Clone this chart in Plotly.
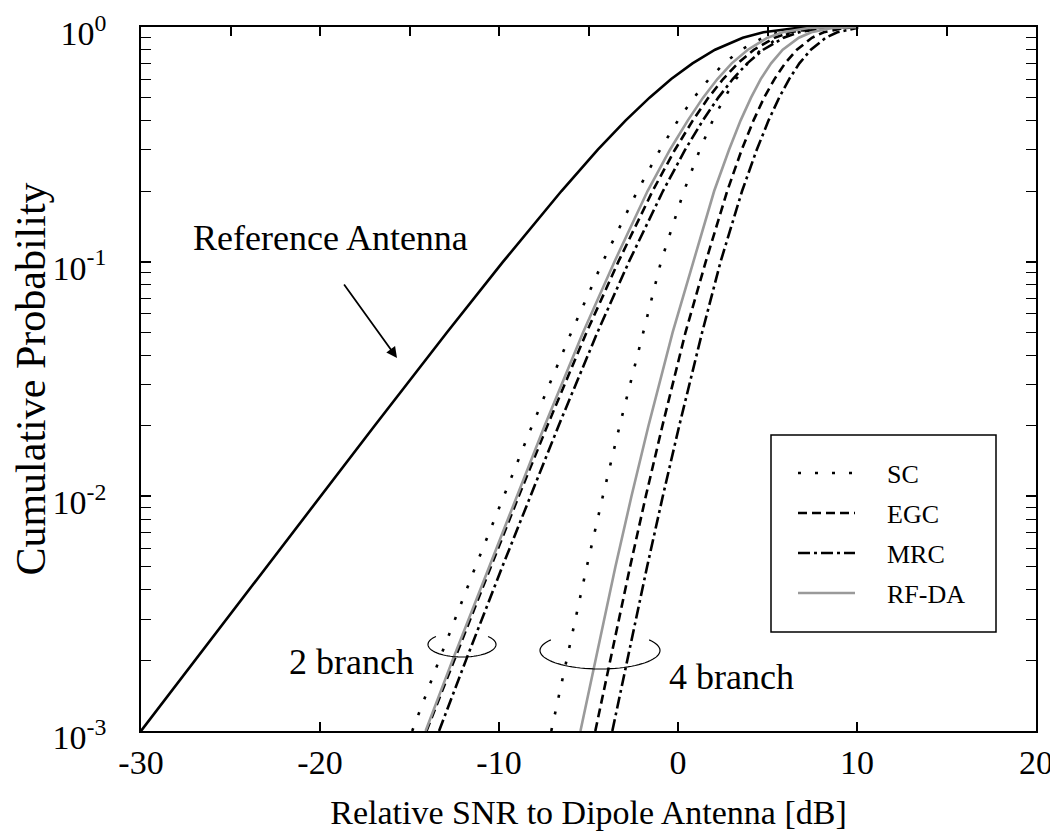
import numpy as np
import plotly.graph_objects as go

# ---------------- data ----------------
cum_prob = [0.001, 0.002, 0.005, 0.01, 0.02, 0.05, 0.1, 0.2, 0.3, 0.4, 0.5,
            0.6, 0.7, 0.8, 0.9, 0.95, 0.99, 0.999, 1.0]

snr_reference = [-30.0, -26.98, -23.0, -19.98, -16.95, -12.9, -9.77, -6.51, -4.48, -2.92,
                 -1.59, -0.38, 0.81, 2.07, 3.62, 4.77, 6.63, 8.39, 10.0]

snr_sc_2 = [-14.85, -13.35, -11.32, -9.75, -8.15, -5.96, -4.2, -2.27, -1.0, 0.0,
            0.89, 1.73, 2.58, 3.52, 4.73, 5.65, 7.24, 8.81, 10.0]
snr_egc_2 = [-14.05, -12.52, -10.46, -8.9, -7.3, -5.11, -3.33, -1.42, -0.17, 0.83,
             1.7, 2.52, 3.34, 4.24, 5.39, 6.26, 7.72, 9.15, 10.0]
snr_mrc_2 = [-13.35, -11.85, -9.82, -8.26, -6.67, -4.5, -2.74, -0.84, 0.4, 1.39,
             2.25, 3.06, 3.87, 4.76, 5.9, 6.76, 8.22, 9.65, 10.0]
snr_rfda_2 = [-14.1, -12.6, -10.55, -9.0, -7.45, -5.3, -3.55, -1.7, -0.45, 0.55,
              1.4, 2.2, 3.0, 3.9, 5.0, 5.85, 7.3, 8.7, 10.0]

snr_sc_4 = [-7.08, -6.24, -5.1, -4.2, -3.26, -1.94, -0.95, 0.33, 1.22, 1.94,
            2.6, 3.24, 3.89, 4.63, 5.62, 6.4, 7.77, 9.19, 10.0]
snr_egc_4 = [-4.62, -3.8, -2.68, -1.8, -0.87, 0.42, 1.55, 2.75, 3.56, 4.22,
             4.81, 5.39, 5.98, 6.64, 7.48, 8.14, 9.26, 10.0, 10.0]
snr_mrc_4 = [-3.67, -2.85, -1.73, -0.85, 0.07, 1.35, 2.38, 3.58, 4.4, 5.06,
             5.65, 6.21, 6.78, 7.42, 8.25, 8.9, 10.0, 10.0, 10.0]
snr_rfda_4 = [-5.45, -4.6, -3.5, -2.6, -1.65, -0.3, 0.85, 2.02, 2.85, 3.5,
              4.08, 4.62, 5.2, 5.85, 6.75, 7.45, 8.6, 9.6, 10.0]

legend_names = ["SC", "EGC", "MRC", "RF-DA"]
x_tick_vals = [-30, -20, -10, 0, 10, 20]
x_tick_text = ["-30", "-20", "-10", "0", "10", "20"]
x_top_tick_vals = [-30, -25, -20, -15, -10, -5, 0, 5, 10, 15, 20]
y_tick_vals = [1e-3, 1e-2, 1e-1, 1.0]
y_tick_text = ["10<sup>-3</sup>", "10<sup>-2</sup>", "10<sup>-1</sup>", "10<sup>0</sup>"]
y_minor_vals = [m * 10.0 ** e for e in (-3, -2, -1) for m in range(2, 10)]

# ---------------- layout geometry (screen pixels) ----------------
FONT = "Liberation Serif, Times New Roman, serif"
OFF = 8                      # page body margin of the html page
PL, PT, PR, PB = 141, 27, 1036, 731   # plot area on screen
W, H = 1058 - OFF, 832 - OFF
ML, MT = PL - OFF, PT - OFF
MR, MB = W - (PR - OFF), H - (PB - OFF)

styles = {
    "SC": dict(color="black", width=2.6, dash="3px,14px"),
    "EGC": dict(color="black", width=2.6, dash="9px,5px"),
    "MRC": dict(color="black", width=2.6, dash="12px,4px,3px,4px"),
    "RF-DA": dict(color="#9a9a9a", width=2.6, dash="solid"),
}

fig = go.Figure()
fig.add_trace(go.Scatter(x=snr_reference, y=cum_prob, mode="lines",
                         line=dict(color="black", width=2.6),
                         name="Reference Antenna", showlegend=False))

groups = {
    "SC": (snr_sc_2, snr_sc_4),
    "EGC": (snr_egc_2, snr_egc_4),
    "MRC": (snr_mrc_2, snr_mrc_4),
    "RF-DA": (snr_rfda_2, snr_rfda_4),
}
for name in legend_names:
    two, four = groups[name]
    fig.add_trace(go.Scatter(x=two, y=cum_prob, mode="lines", line=styles[name],
                             name=f"{name} (2 branch)", showlegend=False))
    fig.add_trace(go.Scatter(x=four, y=cum_prob, mode="lines", line=styles[name],
                             name=f"{name} (4 branch)", showlegend=False))

# invisible trace to activate the top axis (ticks every 5 dB)
fig.add_trace(go.Scatter(x=[-30, 20], y=[1e-3, 1e-3], xaxis="x2", mode="lines",
                         line=dict(width=0), showlegend=False, hoverinfo="skip"))


def px2paper(px, py):
    return (px - PL) / (PR - PL), (PB - py) / (PB - PT)


def arc_path(cx, cy, rx, ry, t0, t1, n=60):
    ts = np.radians(np.linspace(t0, t1, n))
    pts = [px2paper(cx + rx * np.cos(t), cy + ry * np.sin(t)) for t in ts]
    return "M" + " L".join(f"{x:.5f},{y:.5f}" for x, y in pts)


shapes = [
    dict(type="path", xref="paper", yref="paper",
         path=arc_path(462, 644.5, 34, 12.5, -40, 220), line=dict(color="black", width=1.2)),
    dict(type="path", xref="paper", yref="paper",
         path=arc_path(600, 650.5, 60, 18.5, -35, 215), line=dict(color="black", width=1.2)),
]

annotations = []
for text, (px, py) in [("Reference Antenna", (330, 238)), ("2 branch", (351, 662)),
                       ("4 branch", (731, 677))]:
    ax_, ay_ = px2paper(px, py)
    annotations.append(dict(text=text, x=ax_, y=ay_, xref="paper", yref="paper",
                            xanchor="center", yanchor="middle", showarrow=False,
                            font=dict(family=FONT, size=36, color="black")))
tipx, tipy = px2paper(397, 358)
annotations.append(dict(text="", x=tipx, y=tipy, xref="paper", yref="paper",
                        showarrow=True, ax=-54, ay=-75, arrowhead=2, arrowsize=1.2,
                        arrowwidth=1.8, arrowcolor="black", standoff=0))

# ---- legend box (drawn by hand to match the original's spacing) ----
bx0, by0 = px2paper(771, 435)
bx1, by1 = px2paper(996, 632)
shapes.append(dict(type="rect", xref="paper", yref="paper", x0=bx0, y0=by1, x1=bx1, y1=by0,
                   line=dict(color="black", width=1.5), fillcolor="white", layer="above"))
for i, name in enumerate(legend_names):
    ypx = 473 + i * 40
    x0, yy = px2paper(798, ypx)
    x1, _ = px2paper(855, ypx)
    shapes.append(dict(type="line", xref="paper", yref="paper", x0=x0, x1=x1, y0=yy, y1=yy,
                       line=styles[name], layer="above"))
    tx, ty = px2paper(885, ypx + 1)
    annotations.append(dict(text=name, x=tx, y=ty, xref="paper", yref="paper",
                            xanchor="left", yanchor="middle", showarrow=False,
                            font=dict(family=FONT, size=26, color="black")))

fig.update_layout(
    width=W, height=H,
    margin=dict(l=ML, r=MR, t=MT, b=MB, autoexpand=False),
    paper_bgcolor="white", plot_bgcolor="white",
    font=dict(family=FONT, size=34, color="black"),
    shapes=shapes, annotations=annotations,
    showlegend=False,
    xaxis=dict(range=[-30, 20], tickvals=x_tick_vals, ticktext=x_tick_text,
               ticks="inside", ticklen=9, tickwidth=1.5, tickcolor="black",
               showline=True, linecolor="black", linewidth=1.5, mirror=True,
               showgrid=False, zeroline=False, automargin=False,
               ticklabeloverflow="allow",
               title=dict(text="Relative SNR to Dipole Antenna [dB]", standoff=21,
                          font=dict(family=FONT, size=34)),
               tickfont=dict(family=FONT, size=34)),
    xaxis2=dict(range=[-30, 20], overlaying="x", side="top", anchor="y",
                tickvals=x_top_tick_vals, ticks="inside", ticklen=9, tickwidth=1.5,
                tickcolor="black", showticklabels=False, showgrid=False, zeroline=False,
                showline=False, automargin=False),
    yaxis=dict(type="log", range=[-3, 0], tickvals=y_tick_vals, ticktext=y_tick_text,
               ticks="inside", ticklen=10, tickwidth=1.5, tickcolor="black",
               ticklabelstandoff=26, ticklabeloverflow="allow", ticklabelshift=6,
               minor=dict(tickvals=y_minor_vals, ticks="inside", ticklen=6,
                          tickwidth=1.2, tickcolor="black", showgrid=False),
               showline=True, linecolor="black", linewidth=1.5, mirror="allticks",
               showgrid=False, zeroline=False, automargin=False,
               title=dict(text="Cumulative Probability", standoff=4,
                          font=dict(family=FONT, size=42)),
               tickfont=dict(family=FONT, size=34)),
)

fig.write_html("out.html")
